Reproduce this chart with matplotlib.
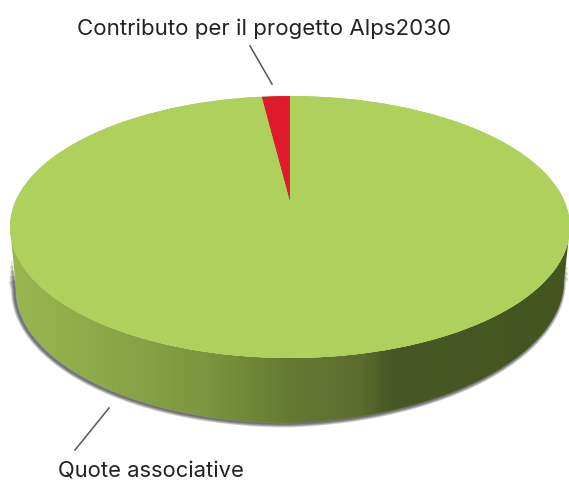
import numpy as np
from matplotlib import pyplot as plt
from matplotlib.colors import LinearSegmentedColormap
from matplotlib.patches import Ellipse, PathPatch
from matplotlib.path import Path
from matplotlib.transforms import Affine2D

labels = ["Contributo per il progetto Alps2030", "Quote associative"]
values = [2, 98]
colors = ["#e01a2d", "#aed05c"]

W, H = 569, 481
cx, cy = 290, 228      # centre of the top face, pixels
rx, ry = 280, 131


def dx(px):
    return (px - cx) / rx


def dy(py):
    return (cy - py) / ry


fig = plt.figure(figsize=(W / 100, H / 100), dpi=100)
ax = fig.add_axes([0, 0, 1, 1])

# side wall: lower half of the top face joined to lower half of the base,
# the base rises a little towards the right like in the perspective of the original
t = np.linspace(np.pi, 2 * np.pi, 200)
top_x, top_y = np.cos(t), np.sin(t)
base_px = 290 + 274 * np.cos(t)
base_py = 290 - 134 * np.sin(t) - 0.03 * np.clip(base_px - 290, 0, None)
base = np.column_stack([dx(base_px), dy(base_py)])
wall = np.vstack([np.column_stack([top_x, top_y]), base[::-1]])
wall_patch = PathPatch(Path(wall), fc="none", ec="none", zorder=2)
ax.add_patch(wall_patch)

# soft shadow: stacked strokes along the base and up the sides, the wide ones
# start lower so the shadow tapers off towards the top face
for lw in [5, 4, 3, 2, 1]:
    start = 256 + 5 * lw
    shadow = np.vstack([[[dx(13 + 0.1 * lw), dy(start)]], base, [[dx(567), dy(start - 4)]]])
    shadow_path = Path(shadow).transformed(Affine2D().translate(-1.5 / rx, -1 / ry))
    ax.add_patch(PathPatch(shadow_path, fc="none", ec="#000000", lw=lw, alpha=0.15,
                           capstyle="butt", zorder=1))

wall_cmap = LinearSegmentedColormap.from_list("wall", [
    (0.00, "#9ab650"),
    (0.18, "#8ba847"),
    (0.35, "#7a963f"),
    (0.50, "#667933"),
    (0.60, "#5f6f30"),
    (0.63, "#5c6c2d"),
    (0.68, "#475824"),
    (1.00, "#445520"),
])
grad = ax.imshow(np.linspace(0, 1, 300).reshape(1, -1), cmap=wall_cmap, aspect="auto",
                 extent=[dx(10), dx(569), dy(440), dy(220)], zorder=2)
grad.set_clip_path(wall_patch)

# top face: the wedges meet above the ellipse centre, so clip an oversized pie
top_face = Ellipse((0, 0), 2, 2, fc=colors[1], ec="none", zorder=3)
ax.add_patch(top_face)
wedges, _ = ax.pie(values, colors=colors, startangle=90, radius=3,
                   center=(0, dy(203)), wedgeprops={"linewidth": 0, "zorder": 4})
for w in wedges:
    w.set_clip_on(True)
    w.set_clip_path(top_face)

ax.set_aspect("auto")
ax.set_xlim(dx(0), dx(W))
ax.set_ylim(dy(H), dy(0))
ax.axis("off")

# leader lines
ax.plot([dx(250), dx(272)], [dy(47), dy(85)], color="#555555", lw=1.1, zorder=5)
ax.plot([dx(109), dx(75)], [dy(409), dy(451)], color="#555555", lw=1.1, zorder=5)

ax.text(dx(77), dy(35), labels[0], fontsize=16, family="Inter", color="#222222",
        ha="left", va="baseline", zorder=5)
ax.text(dx(58), dy(478), labels[1], fontsize=15.8, family="Inter", color="#222222",
        ha="left", va="baseline", zorder=5)

fig.savefig("out.png", dpi=100)
